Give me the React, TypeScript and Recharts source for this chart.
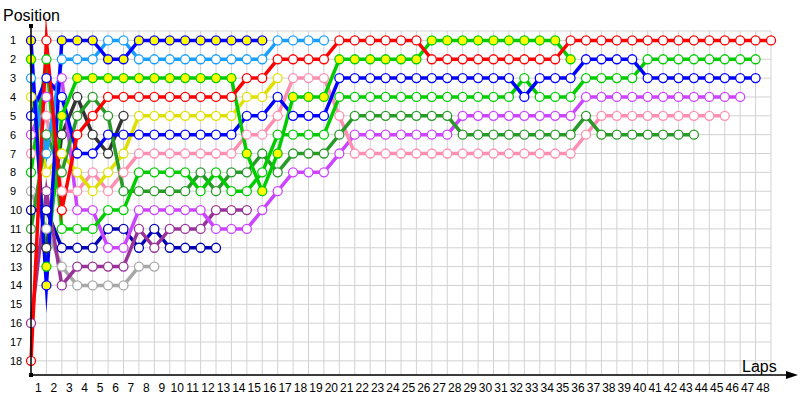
import { LineChart, Line, XAxis, YAxis, CartesianGrid } from "recharts"

// lap 0 is the grid, then laps 1..48
const laps = [0, 1, 2, 3, 4, 5, 6, 7, 8, 9, 10, 11, 12, 13, 14, 15, 16, 17, 18, 19, 20, 21, 22, 23, 24, 25, 26, 27, 28, 29, 30, 31, 32, 33, 34, 35, 36, 37, 38, 39, 40, 41, 42, 43, 44, 45, 46, 47, 48]
const positions = [1, 2, 3, 4, 5, 6, 7, 8, 9, 10, 11, 12, 13, 14, 15, 16, 17, 18]

// position per lap for each car (array index = lap)
const red = [18, 1, 10, 6, 5, 4, 4, 4, 4, 4, 4, 4, 4, 4, 3, 3, 2, 2, 2, 2, 1, 1, 1, 1, 1, 1, 2, 2, 2, 2, 2, 2, 2, 2, 2, 1, 1, 1, 1, 1, 1, 1, 1, 1, 1, 1, 1, 1, 1]
const blueY = [1, 14, 1, 1, 1, 2, 2, 1, 1, 1, 1, 1, 1, 1, 1, 1]
const lightBlue = [3, 7, 2, 2, 2, 1, 1, 2, 2, 2, 2, 2, 2, 2, 2, 2, 1, 1, 1, 1]
const greenY = [2, 13, 5, 3, 3, 3, 3, 3, 3, 3, 3, 3, 3, 3, 7, 9, 7, 4, 4, 4, 2, 2, 2, 2, 2, 2, 1, 1, 1, 1, 1, 1, 1, 1, 1, 2]
const blue = [5, 3, 4, 7, 7, 6, 6, 6, 6, 6, 6, 6, 6, 6, 5, 5, 4, 5, 5, 5, 3, 3, 3, 3, 3, 3, 3, 3, 3, 3, 3, 3, 4, 3, 3, 3, 2, 2, 2, 2, 3, 3, 3, 3, 3, 3, 3, 3]
const green = [8, 2, 11, 11, 11, 10, 10, 8, 8, 8, 8, 9, 8, 9, 9, 8, 6, 6, 6, 6, 4, 4, 4, 4, 4, 4, 4, 4, 4, 4, 4, 4, 3, 4, 4, 4, 3, 3, 3, 3, 2, 2, 2, 2, 2, 2, 2, 2]
const darkGreen = [11, 6, 8, 5, 4, 5, 9, 9, 9, 9, 9, 8, 9, 8, 8, 7, 8, 7, 7, 7, 6, 5, 5, 5, 5, 5, 5, 5, 6, 6, 6, 6, 6, 6, 6, 6, 5, 6, 6, 6, 6, 6, 6, 6]
const yellow = [4, 8, 7, 8, 9, 8, 7, 5, 5, 5, 5, 5, 5, 5, 4, 4, 3]
const pink = [7, 5, 9, 9, 8, 9, 8, 7, 7, 7, 7, 7, 7, 7, 6, 6, 5, 3, 3, 3, 5, 7, 7, 7, 7, 7, 7, 7, 7, 7, 7, 7, 7, 7, 7, 7, 6, 5, 5, 5, 5, 5, 5, 5, 5, 5]
const violet = [6, 4, 3, 10, 10, 12, 12, 10, 10, 10, 10, 10, 11, 11, 11, 10, 9, 8, 8, 8, 7, 6, 6, 6, 6, 6, 6, 6, 5, 5, 5, 5, 5, 5, 5, 5, 4, 4, 4, 4, 4, 4, 4, 4, 4, 4, 4]
const purple = [16, 9, 14, 13, 13, 13, 13, 11, 12, 11, 11, 11, 10, 10, 10]
const navy = [10, 10, 12, 12, 12, 11, 11, 12, 11, 12, 12, 12, 12]
const darkGray = [12, 12, 6, 4, 6, 7, 5]
const gray = [9, 11, 13, 14, 14, 14, 14, 13, 13]

const series = [
  { key: "gray", values: gray, color: "#a8a8a8", fill: "#ffffff" },
  { key: "darkGray", values: darkGray, color: "#333333", fill: "#ffffff" },
  { key: "navy", values: navy, color: "#0000b4", fill: "#ffffff" },
  { key: "purple", values: purple, color: "#993399", fill: "#ffffff" },
  { key: "violet", values: violet, color: "#cc44ff", fill: "#ffffff" },
  { key: "pink", values: pink, color: "#ff8fb0", fill: "#ffffff" },
  { key: "yellow", values: yellow, color: "#e0e000", fill: "#ffffff" },
  { key: "darkGreen", values: darkGreen, color: "#289a28", fill: "#ffffff" },
  { key: "green", values: green, color: "#00cc00", fill: "#ffffff" },
  { key: "blue", values: blue, color: "#0000ff", fill: "#ffffff" },
  { key: "greenY", values: greenY, color: "#00cc00", fill: "#ffff00" },
  { key: "lightBlue", values: lightBlue, color: "#1a9fff", fill: "#ffffff" },
  { key: "blueY", values: blueY, color: "#0000ff", fill: "#ffff00" },
  { key: "red", values: red, color: "#ff0000", fill: "#ffffff" },
]

const data = laps.map((lap) => {
  const row: Record<string, number | undefined> = { lap }
  series.forEach((s) => {
    row[s.key] = s.values[lap]
  })
  return row
})

const makeDot = (color: string, fill: string) => (props: any) => {
  const { cx, cy, index } = props
  if (cx == null || cy == null || Number.isNaN(cy)) return <g key={index} />
  return <circle key={index} cx={cx} cy={cy} r={4.5} fill={fill} stroke={color} strokeWidth={1.3} />
}

const LapTick = (props: any) => {
  const { x, payload } = props
  if (payload.value === 0) return <g />
  return (
    <text x={x - 8} y={392} textAnchor="middle" fontSize={12} fontFamily="Liberation Sans" fill="#000">
      {payload.value}
    </text>
  )
}

const LeftTick = (props: any) => (
  <text x={10} y={props.y + 4} textAnchor="start" fontSize={11} fontFamily="Liberation Sans" fill="#000">
    {props.payload.value}
  </text>
)

const RightTick = (props: any) => (
  <text x={777} y={props.y + 4} textAnchor="start" fontSize={11} fontFamily="Liberation Sans" fill="#000">
    {props.payload.value}
  </text>
)

export default function App() {
  return (
    <div style={{ position: "absolute", left: 0, top: 0, width: 800, height: 400, background: "#fff" }}>
      <LineChart width={800} height={400} data={data} margin={{ top: 31, right: 0, bottom: 0, left: 0 }}>
        <CartesianGrid stroke="#d2d2d2" strokeWidth={1} />
        <XAxis
          dataKey="lap"
          type="number"
          domain={[0, 48]}
          ticks={laps}
          interval={0}
          height={25}
          axisLine={false}
          tickLine={false}
          tick={<LapTick />}
        />
        <YAxis
          type="number"
          domain={[0.5, 18.75]}
          reversed
          ticks={positions}
          interval={0}
          width={31}
          axisLine={false}
          tickLine={false}
          tick={<LeftTick />}
        />
        <YAxis
          yAxisId="right"
          orientation="right"
          type="number"
          domain={[0.5, 18.75]}
          reversed
          ticks={positions}
          interval={0}
          width={29}
          axisLine={false}
          tickLine={false}
          tick={<RightTick />}
        />
        {series.map((s) => (
          <Line
            key={s.key}
            dataKey={s.key}
            type="linear"
            stroke={s.color}
            strokeWidth={3.5}
            strokeMiterlimit={40}
            dot={makeDot(s.color, s.fill)}
            activeDot={false}
            isAnimationActive={false}
          />
        ))}
      </LineChart>
      <svg width={800} height={400} style={{ position: "absolute", left: 0, top: 0, pointerEvents: "none" }}>
        <line x1={31} y1={25} x2={31} y2={375} stroke="#000" strokeWidth={1.5} />
        <line x1={31} y1={375} x2={790} y2={375} stroke="#000" strokeWidth={1.5} />
        <polygon points="798,375 786,371 786,379" fill="#000" />
        <rect x={29} y={24} width={4} height={4} fill="#000" />
        <rect x={29} y={373} width={4} height={4} fill="#000" />
        <text x={3} y={21} fontSize={16} fontFamily="Liberation Sans" fill="#000">Position</text>
        <text x={742} y={372} fontSize={16} fontFamily="Liberation Sans" fill="#000">Laps</text>
      </svg>
    </div>
  )
}
